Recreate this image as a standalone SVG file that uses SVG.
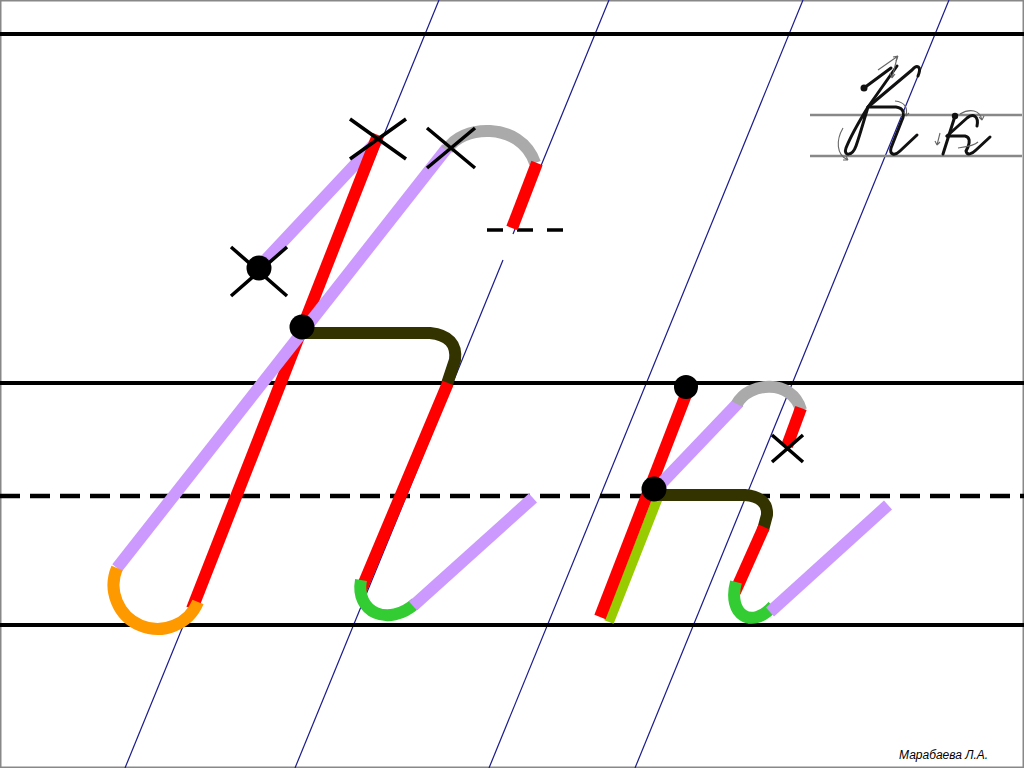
<svg xmlns="http://www.w3.org/2000/svg" width="1024" height="768" viewBox="0 0 1024 768">
<style>
.guide{stroke:#1a1a8c;stroke-width:1.2;fill:none}
.rule{stroke:#000;stroke-width:4;fill:none}
.dash{stroke:#000;stroke-width:4.5;fill:none;stroke-dasharray:20 10}
.s{fill:none;stroke-width:12;stroke-linecap:butt;stroke-linejoin:round}
.red{stroke:#ff0000}
.pur{stroke:#cc99ff}
.gry{stroke:#aaaaaa}
.dk{stroke:#333300}
.grn{stroke:#33cc33}
.ylg{stroke:#99cc00}
.org{stroke:#ff9900}
.x{stroke:#000;stroke-width:3.5;fill:none}
.dot{fill:#000}
.th{fill:none;stroke:#111;stroke-width:3;stroke-linecap:round;stroke-linejoin:round}
.ar{fill:none;stroke:#666;stroke-width:1.1}
.author{font-family:"Liberation Sans",Arial,sans-serif;font-style:italic;font-size:12px;fill:#000}
</style>
<rect x="0" y="0" width="1024" height="768" fill="#fff"/>
<rect x="0.75" y="0.75" width="1022.5" height="766.5" fill="none" stroke="#888" stroke-width="1.5"/>

<g id="guides">
<line class="guide" x1="439" y1="0" x2="125" y2="768"/>
<line class="guide" x1="609" y1="0" x2="513" y2="234"/>
<line class="guide" x1="503" y1="260" x2="295" y2="768"/>
<line class="guide" x1="803" y1="0" x2="489" y2="768"/>
<line class="guide" x1="949" y1="0" x2="635" y2="768"/>
</g>

<g id="rules">
<line class="rule" x1="0" y1="34" x2="1024" y2="34"/>
<line class="rule" x1="0" y1="383" x2="1024" y2="383"/>
<line class="dash" x1="0" y1="496" x2="1024" y2="496"/>
<line class="rule" x1="0" y1="625" x2="1024" y2="625"/>
<line x1="487" y1="230" x2="563" y2="230" stroke="#000" stroke-width="3.5" stroke-dasharray="16 14"/>
</g>

<g id="thumbnail">
<line x1="810" y1="115" x2="1022" y2="115" stroke="#888" stroke-width="2.5"/>
<line x1="810" y1="156" x2="1022" y2="156" stroke="#888" stroke-width="2.5"/>
<circle cx="864" cy="88" r="3.5" fill="#111"/>
<path class="th" d="M864,88 L891,68"/>
<path class="th" d="M897,66 L868,107 C860,120 850,138 846,148 C843,156 852,157 856,146 C860,135 864,120 868,107"/>
<path class="th" d="M868,107 L912,70 C917,64 922,66 918,76"/>
<path class="th" d="M868,107 L896,107 C904,108 905,114 902,120 L891,148 C889,155 895,156 900,151 L917,135"/>
<circle cx="955" cy="116" r="3.2" fill="#111"/>
<path class="th" d="M955,116 L943,154"/>
<path class="th" d="M947,136 L967,118 C973,113 979,116 977,126"/>
<path class="th" d="M947,136 L965,136 C970,137 970,142 968,147 L966,151 C967,156 972,154 976,150 L990,137"/>
<path class="ar" d="M878,70 L898,56 M898,56 L893,57 M898,56 L896,61"/>
<path class="ar" d="M897,58 L892,78 M892,78 L890,73 M892,78 L895,74"/>
<path class="ar" d="M843,128 C836,140 836,155 848,160 M848,160 L843,160 M848,160 L846,156"/>
<path class="ar" d="M895,101 C905,102 908,108 906,116 M906,116 L904,112 M906,116 L909,113"/>
<path class="ar" d="M940,133 L937,145 M937,145 L935,141 M937,145 L940,142"/>
<path class="ar" d="M960,114 C970,108 980,110 982,120 M982,120 L979,117 M982,120 L984,116"/>
<path class="ar" d="M958,148 C965,147 974,146 978,142"/>
</g>

<g id="letter-big">
<path class="s pur" d="M259,267 L378,140"/>
<path class="s red" d="M378,135 L192,609"/>
<path class="s pur" d="M447,148 L117,568"/>
<path class="s org" d="M117,568 A42,42 0 0 0 198,602"/>
<path class="s gry" d="M447,150 C460,125 520,120 535,163"/>
<path class="s red" d="M537,163 L512,228"/>
<path class="s dk" d="M303,333 H430 Q458,336 455,360 L447,384"/>
<path class="s red" d="M448,383 L361,590"/>
<path class="s grn" d="M361,580 C355,612 388,628 416,603"/>
<path class="s pur" d="M413,606 L533,498"/>
<g class="x">
<path d="M350,119 L406,159 M350,159 L406,119"/>
<path d="M427,128 L475,168 M427,168 L475,128"/>
<path d="M231,247 L287,296 M231,296 L287,247"/>
</g>
<circle class="dot" cx="259" cy="268" r="12.5"/>
<circle class="dot" cx="302" cy="327" r="12.5"/>
</g>

<g id="letter-small">
<path class="s ylg" d="M659,495 L609,622" style="stroke-width:10"/>
<path class="s red" d="M687,392 L600,617"/>
<path class="s pur" d="M655,490 L739,402"/>
<path class="s gry" d="M737,404 C748,382 792,378 801,410"/>
<path class="s red" d="M801,408 L787,446"/>
<path class="x" d="M772,435 L803,462 M772,462 L803,435"/>
<path class="s dk" d="M655,495 H745 Q768,497 767,515 L763,530"/>
<path class="s red" d="M764,527 L735,592"/>
<path class="s grn" d="M736,582 C727,615 752,630 773,606"/>
<path class="s pur" d="M770,612 L888,505"/>
<circle class="dot" cx="686" cy="387" r="12"/>
<circle class="dot" cx="654" cy="489" r="12.5"/>
</g>

<text class="author" x="899" y="759">Марабаева Л.А.</text>
</svg>
